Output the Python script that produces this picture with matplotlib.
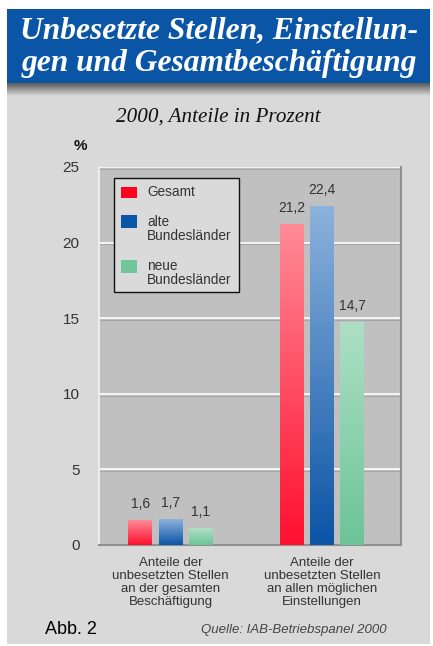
import numpy as np
import matplotlib
matplotlib.use("Agg")
import matplotlib.pyplot as plt
from matplotlib.colors import LinearSegmentedColormap
from matplotlib.patches import Rectangle

# values (percent, year 2000)
groups = ["Anteile der\nunbesetzten Stellen\nan der gesamten\nBeschäftigung",
          "Anteile der\nunbesetzten Stellen\nan allen möglichen\nEinstellungen"]
series = ["Gesamt", "alte\nBundesländer", "neue\nBundesländer"]
gesamt = [1.6, 21.2]
alte_bl = [1.7, 22.4]
neue_bl = [1.1, 14.7]
yticks = [0, 5, 10, 15, 20, 25]

W, H = 433, 646
PANEL = "#d9d9d9"
PLOT_BG = "#c0c0c0"
BLUE = "#0a55a5"

# (bottom colour, top colour) per series
shades = [("#ff1030", "#ff8a96"), ("#0b54a6", "#8cb2dc"), ("#6cc497", "#aedfc5")]
solid = ["#ff0020", "#0a55a5", "#70c69a"]


def fx(x):
    return x / W


def fy(y):
    return 1 - y / H


fig = plt.figure(figsize=(W / 100, H / 100), dpi=100)
fig.patch.set_facecolor("white")

# light grey panel and blue title banner
fig.patches.append(Rectangle((fx(7), fy(644)), fx(430) - fx(7), fy(83) - fy(644),
                             transform=fig.transFigure, facecolor=PANEL, edgecolor="none", zorder=-2))
fig.patches.append(Rectangle((fx(7), fy(83)), fx(430) - fx(7), fy(9) - fy(83),
                             transform=fig.transFigure, facecolor=BLUE, edgecolor="none", zorder=-1))

# shadow under the banner
sh = fig.add_axes([fx(7), fy(96), fx(430) - fx(7), fy(83) - fy(96)])
sh.imshow(np.linspace(0, 1, 50).reshape(-1, 1), aspect="auto",
          cmap=LinearSegmentedColormap.from_list("sh", ["#5a5a5a", PANEL]),
          extent=[0, 1, 0, 1])
sh.axis("off")

fig.text(fx(219), fy(31), "Unbesetzte Stellen, Einstellun-", color="white",
         family="Liberation Serif", weight="bold", style="italic", fontsize=22.7,
         ha="center", va="center")
fig.text(fx(219), fy(63), "gen und Gesamtbeschäftigung", color="white",
         family="Liberation Serif", weight="bold", style="italic", fontsize=22.7,
         ha="center", va="center")
fig.text(fx(218), fy(117), "2000, Anteile in Prozent", color="#111111",
         family="Liberation Serif", style="italic", fontsize=15.2,
         ha="center", va="center")

# plot area
ax = fig.add_axes([fx(99), fy(545), fx(401) - fx(99), fy(167) - fy(545)])
ax.set_facecolor(PLOT_BG)

centers = np.array([0.0, 1.0])
offsets = [-0.2, 0.0, 0.2]
width = 0.158

for s, vals in enumerate([gesamt, alte_bl, neue_bl]):
    cmap = LinearSegmentedColormap.from_list("g%d" % s, [shades[s][0], shades[s][1]])
    for g, v in enumerate(vals):
        x0 = centers[g] + offsets[s] - width / 2
        ax.imshow(np.linspace(0, 1, 100).reshape(-1, 1), cmap=cmap, aspect="auto",
                  origin="lower", extent=[x0, x0 + width, 0, v], zorder=3)
        ax.annotate(("%.1f" % v).replace(".", ","), (x0 + width / 2, v),
                    xytext=(0, 7), textcoords="offset points", ha="center", va="bottom",
                    fontsize=10, color="#333333", family="Liberation Sans")

for y in yticks[1:]:
    ax.axhline(y - 0.12, color="#a8a8a8", lw=0.8, zorder=1)
    ax.axhline(y, color="white", lw=1.2, zorder=2)

ax.set_xlim(-0.472, 1.521)
ax.set_ylim(0, 25)
ax.set_yticks(yticks)
ax.set_yticklabels([str(t) for t in yticks], fontsize=11, color="#333333", family="Liberation Sans")
ax.tick_params(axis="y", length=0, pad=14)
ax.set_xticks(centers)
ax.set_xticklabels(groups, fontsize=9.5, color="#333333", family="Liberation Sans", linespacing=1.08)
ax.tick_params(axis="x", length=0, pad=9)
for lab in ax.get_xticklabels():
    lab.set_multialignment("center")

ax.spines["top"].set_visible(False)
ax.spines["left"].set_color("#f2f2f2")
ax.spines["left"].set_linewidth(1.2)
ax.spines["bottom"].set_color("#8f8f8f")
ax.spines["bottom"].set_linewidth(1.5)
ax.spines["right"].set_color("#909090")
ax.spines["right"].set_linewidth(1.5)

fig.text(fx(80), fy(146), "%", fontsize=11, weight="bold", color="#111111",
         family="Liberation Sans", ha="center", va="center")

# legend box
fig.patches.append(Rectangle((fx(114), fy(292)), fx(239) - fx(114), fy(178) - fy(292),
                             transform=fig.transFigure, facecolor="#dadada",
                             edgecolor="#111111", lw=1.0, zorder=5))
leg_rows = [(187, 198, 192), (215, 228, 229.5), (260, 273, 272.5)]
for s, (top, bot, ty) in enumerate(leg_rows):
    fig.patches.append(Rectangle((fx(121), fy(bot)), fx(137) - fx(121), fy(top) - fy(bot),
                                 transform=fig.transFigure, facecolor=solid[s],
                                 edgecolor="none", zorder=6))
    fig.text(fx(147), fy(ty), series[s], fontsize=9.8, color="#333333",
             family="Liberation Sans", ha="left", va="center", linespacing=1.0, zorder=7)

fig.text(fx(45), fy(630), "Abb. 2", fontsize=13, color="#000000",
         family="Liberation Sans", ha="left", va="center")
fig.text(fx(387), fy(630), "Quelle: IAB-Betriebspanel 2000", fontsize=9.5, color="#444444",
         family="Liberation Sans", style="italic", ha="right", va="center")

fig.savefig("out.png", dpi=100, facecolor=fig.get_facecolor())
